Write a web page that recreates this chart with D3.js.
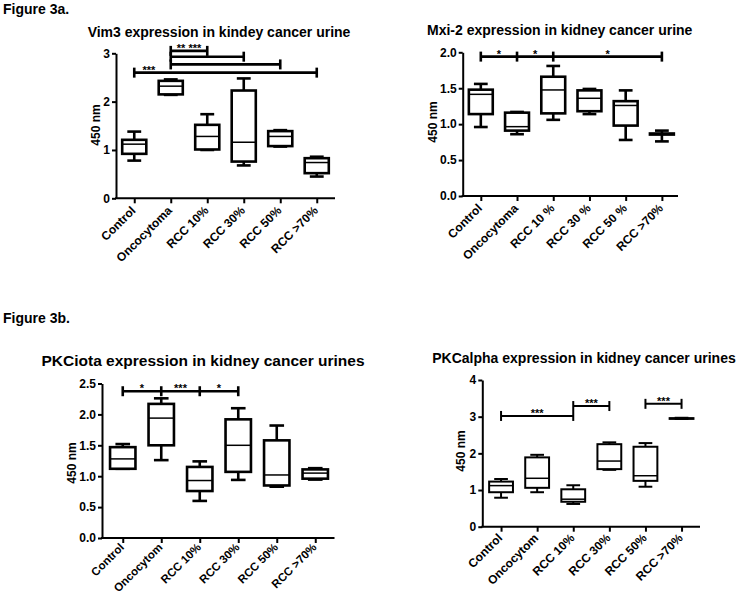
<!DOCTYPE html>
<html><head><meta charset="utf-8">
<script src="https://cdn.jsdelivr.net/npm/d3@7"></script>
<style>
body{margin:0;background:#fff}
svg text{font-family:"Liberation Sans",Arial,Helvetica,sans-serif;font-weight:bold;fill:#000}
</style>
</head><body>
<svg id="chart" width="739" height="598"></svg>
<script>
// ---------- DATA ----------
const figureLabels = ["Figure 3a.", "Figure 3b."];

const vim3Title = "Vim3 expression in kindey cancer urine";
const vim3Categories = ["Control","Oncocytoma","RCC 10%","RCC 30%","RCC 50%","RCC >70%"];
// [min, q1, median, q3, max]
const vim3Boxes = [
  [0.78,0.92,1.12,1.21,1.38],
  [2.14,2.15,2.32,2.43,2.46],
  [1.00,1.01,1.28,1.52,1.74],
  [0.68,0.76,1.16,2.23,2.48],
  [1.07,1.08,1.28,1.39,1.41],
  [0.45,0.52,0.74,0.83,0.86]
];
const vim3Ticks = [0,1,2,3];
const vim3Sig = [
  {pts:[1,2], value:3.05, labels:[{text:"** ***", at:1.5}]},
  {pts:[1,3], value:2.93, labels:[]},
  {pts:[1,4], value:2.77, labels:[]},
  {pts:[0,5], value:2.60, labels:[{text:"***", at:0.4}]}
];

const mxi2Title = "Mxi-2 expression in kidney cancer urine";
const mxi2Categories = ["Control","Oncocytoma","RCC 10 %","RCC 30 %","RCC 50 %","RCC >70%"];
const mxi2Boxes = [
  [0.96,1.14,1.415,1.48,1.56],
  [0.86,0.91,0.965,1.16,1.17],
  [1.06,1.15,1.476,1.66,1.81],
  [1.14,1.18,1.36,1.47,1.49],
  [0.78,0.98,1.26,1.32,1.47],
  [0.76,0.855,0.86,0.87,0.91]
];
const mxi2Ticks = [0,0.5,1,1.5,2];
const mxi2Sig = [
  {pts:[0,1,2,5], value:1.94, labels:[{text:"*", at:0.5},{text:"*", at:1.5},{text:"*", at:3.5}]}
];

const pkciotaTitle = "PKCiota expression in kidney cancer urines";
const pkciotaCategories = ["Control","Oncocytom","RCC 10%","RCC 30%","RCC 50%","RCC >70%"];
const pkciotaBoxes = [
  [1.12,1.12,1.28,1.47,1.52],
  [1.26,1.50,1.94,2.17,2.26],
  [0.60,0.76,0.93,1.15,1.24],
  [0.94,1.07,1.50,1.92,2.10],
  [0.83,0.85,1.02,1.58,1.82],
  [0.945,0.96,1.05,1.11,1.13]
];
const pkciotaTicks = [0,0.5,1,1.5,2,2.5];
const pkciotaSig = [
  {pts:[0,1,2,3], value:2.375, labels:[{text:"*", at:0.5},{text:"***", at:1.5},{text:"*", at:2.5}]}
];

const pkcalphaTitle = "PKCalpha expression in kidney cancer urines";
const pkcalphaCategories = ["Control","Oncocytom","RCC 10%","RCC 30%","RCC 50%","RCC >70%"];
const pkcalphaBoxes = [
  [0.79,0.94,1.12,1.23,1.30],
  [0.94,1.06,1.32,1.89,1.96],
  [0.62,0.68,0.75,1.02,1.13],
  [1.55,1.57,1.79,2.25,2.30],
  [1.09,1.25,1.39,2.18,2.28],
  [2.94,2.94,2.95,2.96,2.97]
];
const pkcalphaTicks = [0,1,2,3,4];
const pkcalphaSig = [
  {pts:[0,2], value:3.02, labels:[{text:"***", at:1}]},
  {pts:[2,3], value:3.29, labels:[{text:"***", at:2.5}]},
  {pts:[4,5], value:3.35, labels:[{text:"***", at:4.5}]}
];

const yAxisLabel = "450 nm";

// ---------- LAYOUT ----------
const panels = [
  {title:vim3Title, cats:vim3Categories, boxes:vim3Boxes, ticks:vim3Ticks, sig:vim3Sig, fmt:"d",
   axisX:116, xr:[116,335], xEnd:335, y0:198.3, yTop:53.3, yMax:3,
   titleX:219, titleY:37, titleSize:14, ylabX:100, ylabY:125, sw:2.6, labSize:12, labDy:13},
  {title:mxi2Title, cats:mxi2Categories, boxes:mxi2Boxes, ticks:mxi2Ticks, sig:mxi2Sig, fmt:".1f",
   axisX:462.7, xr:[462.7,680], xEnd:678, y0:196, yTop:52.3, yMax:2,
   titleX:559.7, titleY:35, titleSize:14, ylabX:436.7, ylabY:122, sw:2.6, labSize:12, labDy:13},
  {title:pkciotaTitle, cats:pkciotaCategories, boxes:pkciotaBoxes, ticks:pkciotaTicks, sig:pkciotaSig, fmt:".1f",
   axisX:102, xr:[103.5,334.5], xEnd:334.5, y0:538, yTop:383.5, yMax:2.5,
   titleX:203, titleY:366, titleSize:15.5, ylabX:76, ylabY:463, sw:2.6, labSize:11.5, labDy:10},
  {title:pkcalphaTitle, cats:pkcalphaCategories, boxes:pkcalphaBoxes, ticks:pkcalphaTicks, sig:pkcalphaSig, fmt:"d",
   axisX:482.3, xr:[483,699.6], xEnd:700, y0:526.7, yTop:380, yMax:4,
   titleX:584, titleY:363, titleSize:14, ylabX:465, ylabY:451, sw:2, labSize:12, labDy:12}
];

const svg = d3.select("#chart");

svg.append("text").attr("x",3).attr("y",14).attr("font-size",14).text(figureLabels[0]);
svg.append("text").attr("x",3).attr("y",323).attr("font-size",14).text(figureLabels[1]);

panels.forEach(p => {
  const g = svg.append("g");
  const x = d3.scalePoint().domain(p.cats).range(p.xr).padding(0.5);
  const y = d3.scaleLinear().domain([0,p.yMax]).range([p.y0,p.yTop]);
  const step = x.step();
  const bw = step*0.66, cw = step*0.38;

  // title
  g.append("text").attr("x",p.titleX).attr("y",p.titleY).attr("text-anchor","middle")
    .attr("font-size",p.titleSize).text(p.title);

  // y axis
  const ya = g.append("g").attr("transform",`translate(${p.axisX},0)`)
    .call(d3.axisLeft(y).tickValues(p.ticks).tickFormat(d3.format(p.fmt)).tickSize(4).tickPadding(2).tickSizeOuter(0));
  ya.select(".domain").attr("stroke","#000").attr("stroke-width",2);
  ya.selectAll(".tick line").attr("stroke","#000").attr("stroke-width",2);
  ya.selectAll(".tick text").attr("font-size",12).attr("font-family",null).attr("fill","#000");

  // x axis
  const xa = g.append("g").attr("transform",`translate(0,${p.y0})`)
    .call(d3.axisBottom(x).tickSize(5).tickFormat(""));
  xa.select(".domain").remove();
  xa.selectAll(".tick line").attr("stroke","#000").attr("stroke-width",2);
  g.append("line").attr("x1",p.axisX-1).attr("x2",p.xEnd).attr("y1",p.y0).attr("y2",p.y0)
    .attr("stroke","#000").attr("stroke-width",2);
  g.selectAll(".xlab").data(p.cats).enter().append("text")
    .attr("text-anchor","end").attr("font-size",p.labSize)
    .attr("transform",d=>`translate(${x(d)+2},${p.y0+p.labDy}) rotate(-45)`)
    .text(d=>d);

  // y label
  g.append("text").attr("text-anchor","middle").attr("font-size",12)
    .attr("transform",`translate(${p.ylabX},${p.ylabY}) rotate(-90)`).text(yAxisLabel);

  // boxes
  const bx = g.selectAll(".box").data(p.boxes).enter().append("g")
    .attr("transform",(d,i)=>`translate(${x(p.cats[i])},0)`);
  bx.append("line").attr("x1",0).attr("x2",0).attr("y1",d=>y(d[4])).attr("y2",d=>y(d[3]))
    .attr("stroke","#000").attr("stroke-width",p.sw);
  bx.append("line").attr("x1",0).attr("x2",0).attr("y1",d=>y(d[1])).attr("y2",d=>y(d[0]))
    .attr("stroke","#000").attr("stroke-width",p.sw);
  bx.append("line").attr("x1",-cw/2).attr("x2",cw/2).attr("y1",d=>y(d[4])).attr("y2",d=>y(d[4]))
    .attr("stroke","#000").attr("stroke-width",p.sw);
  bx.append("line").attr("x1",-cw/2).attr("x2",cw/2).attr("y1",d=>y(d[0])).attr("y2",d=>y(d[0]))
    .attr("stroke","#000").attr("stroke-width",p.sw);
  bx.append("rect").attr("x",-bw/2).attr("width",bw)
    .attr("y",d=>y(d[3])).attr("height",d=>Math.max(0.5,y(d[1])-y(d[3])))
    .attr("fill","#fff").attr("stroke","#000").attr("stroke-width",p.sw);
  bx.append("line").attr("x1",-bw/2).attr("x2",bw/2).attr("y1",d=>y(d[2])).attr("y2",d=>y(d[2]))
    .attr("stroke","#000").attr("stroke-width",1.5);

  // significance bars
  p.sig.forEach(s => {
    const yy = y(s.value);
    const xs = s.pts.map(i=>x(p.cats[i]));
    g.append("line").attr("x1",xs[0]).attr("x2",xs[xs.length-1]).attr("y1",yy).attr("y2",yy)
      .attr("stroke","#000").attr("stroke-width",p.sw);
    xs.forEach(xx => g.append("line").attr("x1",xx).attr("x2",xx).attr("y1",yy-5).attr("y2",yy+5)
      .attr("stroke","#000").attr("stroke-width",p.sw));
    s.labels.forEach(l => {
      const i0 = Math.floor(l.at), f = l.at - i0;
      const lx = x(p.cats[i0]) + f*step;
      g.append("text").attr("x",lx).attr("y",yy+1).attr("text-anchor","middle")
        .attr("font-size",11).text(l.text);
    });
  });
});
</script>
</body></html>
